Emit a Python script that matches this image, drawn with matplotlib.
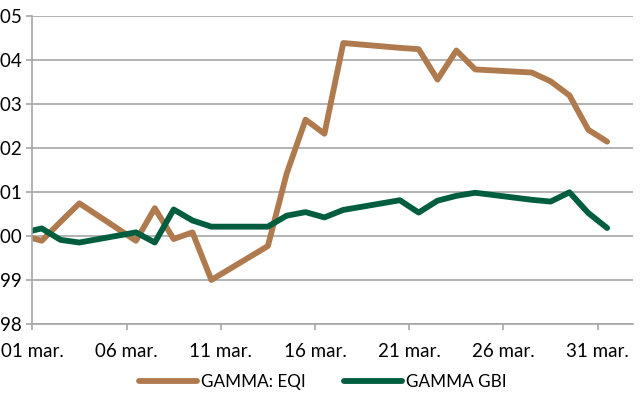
from datetime import datetime, timedelta
import matplotlib
matplotlib.use("Agg")
import matplotlib.pyplot as plt

# trading days (Feb 28 is drawn but clipped at the left edge)
days = ["2017-02-28", "2017-03-01", "2017-03-02", "2017-03-03", "2017-03-06",
        "2017-03-07", "2017-03-08", "2017-03-09", "2017-03-10", "2017-03-13",
        "2017-03-14", "2017-03-15", "2017-03-16", "2017-03-17", "2017-03-20",
        "2017-03-21", "2017-03-22", "2017-03-23", "2017-03-24", "2017-03-27",
        "2017-03-28", "2017-03-29", "2017-03-30", "2017-03-31"]

gamma_eqi = [100.01, 99.89, 100.32, 100.74, 99.89, 100.63, 99.93, 100.08, 99.00, 99.77,
             101.42, 102.64, 102.32, 104.38, 104.27, 104.24, 103.55, 104.21, 103.78, 103.71,
             103.51, 103.19, 102.41, 102.14]

gamma_gbi = [100.07, 100.17, 99.91, 99.85, 100.08, 99.85, 100.60, 100.35, 100.21, 100.21,
             100.46, 100.54, 100.42, 100.59, 100.81, 100.53, 100.80, 100.91, 100.98, 100.82,
             100.78, 100.99, 100.52, 100.18]

tick_days = ["2017-03-01", "2017-03-06", "2017-03-11", "2017-03-16",
             "2017-03-21", "2017-03-26", "2017-03-31"]
tick_labels = ["01 mar.", "06 mar.", "11 mar.", "16 mar.", "21 mar.", "26 mar.", "31 mar."]
y_ticks = [98, 99, 100, 101, 102, 103, 104, 105]

# points sit in the middle of each day (date axis "between tick marks")
x = [datetime.strptime(d, "%Y-%m-%d") + timedelta(hours=12) for d in days]
xt = [datetime.strptime(d, "%Y-%m-%d") for d in tick_days]

plt.rcParams['font.family'] = ['Lato', 'DejaVu Sans']
grid_col = '#A6A6A6'

fig = plt.figure(figsize=(6.43, 4.08), dpi=100)
ax = fig.add_axes([0.0502, 0.2059, 0.9342, 0.7556])

ax.plot(x, gamma_eqi, color='#B07A4F', lw=4.2, solid_joinstyle='round',
        solid_capstyle='round', label='GAMMA: EQI')
ax.plot(x, gamma_gbi, color='#005E3E', lw=4.2, solid_joinstyle='round',
        solid_capstyle='round', label='GAMMA GBI')

ax.set_xlim(datetime(2017, 3, 1), datetime(2017, 3, 1) + timedelta(days=31.87))
ax.set_ylim(98, 105)
ax.set_xticks(xt)
ax.set_xticklabels(tick_labels)
ax.set_yticks(y_ticks)
ax.set_yticklabels([str(v) for v in y_ticks])

ax.grid(axis='y', color=grid_col, lw=1.2)
ax.set_axisbelow(True)
for s in ['top', 'right']:
    ax.spines[s].set_visible(False)
for s in ['left', 'bottom']:
    ax.spines[s].set_color(grid_col)
    ax.spines[s].set_linewidth(1.2)

ax.tick_params(axis='both', colors=grid_col, labelcolor='black', labelsize=13.5,
               length=4.3, width=1.2, direction='out')
ax.tick_params(axis='x', pad=9.5)
ax.tick_params(axis='y', pad=3.2)

fig.legend(loc='center', bbox_to_anchor=(0.502, 0.064), ncol=2, frameon=False,
           fontsize=12.3, handlelength=3.4, handletextpad=0.25, columnspacing=2.2)

fig.savefig('out.png', dpi=100)
